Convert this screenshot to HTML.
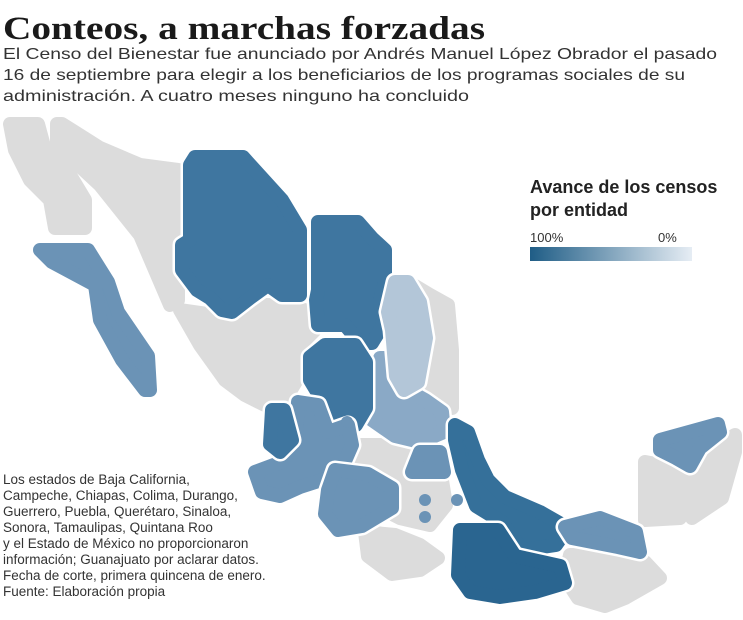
<!DOCTYPE html>
<html><head><meta charset="utf-8"><style>html,body{margin:0;padding:0;background:#fff;}svg{display:block}</style></head>
<body>
<svg width="743" height="620" viewBox="0 0 743 620" xmlns="http://www.w3.org/2000/svg">
<g font-family="Liberation Sans, sans-serif">
<text x="3" y="39" font-family="Liberation Serif, serif" font-weight="bold" font-size="33" fill="#1a1a1a" textLength="482" lengthAdjust="spacingAndGlyphs">Conteos, a marchas forzadas</text>
<text x="3" y="59" font-size="16" fill="#333" textLength="714" lengthAdjust="spacingAndGlyphs">El Censo del Bienestar fue anunciado por Andrés Manuel López Obrador el pasado</text>
<text x="3" y="80" font-size="16" fill="#333" textLength="682" lengthAdjust="spacingAndGlyphs">16 de septiembre para elegir a los beneficiarios de los programas sociales de su</text>
<text x="3" y="101" font-size="16" fill="#333" textLength="466" lengthAdjust="spacingAndGlyphs">administración. A cuatro meses ninguno ha concluido</text>
</g>
<defs>
<polygon id="bc" points="10,124 38,124 45,150 70,175 85,200 85,228 55,228 50,200 30,180 15,150"/>
<polygon id="son" points="57,124 62,124 100,148 140,165 178,170 178,300 170,305 140,235 100,185 57,145"/>
<polygon id="dur" points="180,310 215,315 240,305 285,305 312,312 320,325 300,345 298,378 285,400 265,405 245,395 225,380 200,345"/>
<polygon id="tam" points="415,286 430,295 448,305 452,350 452,408 440,410 425,400 428,340"/>
<polygon id="pue" points="345,445 400,445 410,460 440,468 446,505 430,525 400,518 365,500 352,470"/>
<polygon id="gro" points="365,532 395,535 420,545 438,558 420,570 392,574 368,556"/>
<polygon id="chs" points="570,555 620,555 645,562 660,578 625,598 605,606 578,598 565,578"/>
<polygon id="cam" points="645,462 676,468 684,482 680,518 645,520 645,470"/>
<polygon id="qr" points="700,462 722,442 735,435 735,452 722,498 692,518 690,478"/>
<polygon id="chih" points="195,157 243,157 262,178 282,200 300,230 300,295 282,295 268,285 250,298 232,312 222,310 210,298 197,290 182,270 182,245 190,240 190,165"/>
<polygon id="coa" points="318,222 358,222 372,238 385,250 385,282 380,300 383,325 372,343 360,343 345,325 318,325 316,300 318,290"/>
<polygon id="zac" points="325,345 355,345 366,362 366,408 356,425 332,425 322,400 310,380 310,357"/>
<polygon id="nay" points="272,410 284,410 292,440 280,452 270,444"/>
<polygon id="oax" points="460,530 498,530 515,556 560,566 565,583 535,592 500,597 470,592 458,575"/>
<polygon id="ver" points="455,425 468,432 478,460 488,480 505,497 540,512 568,528 556,545 522,550 502,522 476,506 462,470 455,440"/>
<polygon id="bcs" points="40,250 88,250 108,282 118,312 148,356 150,390 145,390 122,360 100,320 95,285 52,262"/>
<polygon id="jal" points="298,402 318,405 328,432 348,425 352,445 342,468 328,478 300,487 280,496 262,492 255,472 282,462 296,440"/>
<polygon id="mic" points="335,470 368,474 392,488 392,508 362,526 338,530 325,514 328,490"/>
<polygon id="tab" points="565,527 600,518 636,532 640,552 618,547 572,538"/>
<polygon id="yuc" points="660,440 718,424 720,432 700,448 690,466 676,458 660,450"/>
<polygon id="hgo" points="420,452 440,452 444,472 412,472"/>
<polygon id="slp" points="380,358 395,358 398,385 425,400 442,412 444,432 420,442 395,436 372,420 350,398 372,392"/>
<polygon id="nl" points="395,282 408,282 420,302 426,338 418,382 404,390 396,376 392,330 388,312"/>
</defs>
<g stroke-linejoin="round">
<g fill="#dcdcdc" stroke="#dcdcdc" stroke-width="14">
<use href="#bc"/><use href="#son"/><use href="#dur"/><use href="#tam"/><use href="#pue"/><use href="#gro"/><use href="#chs"/><use href="#cam"/><use href="#qr"/>
</g>
<g stroke="#fff" stroke-width="19" fill="#fff"><use href="#chih"/><use href="#coa"/><use href="#bcs"/></g>
<g fill="#3f76a0" stroke="#3f76a0" stroke-width="14"><use href="#chih"/><use href="#coa"/></g>
<g fill="#6b93b6" stroke="#6b93b6" stroke-width="14"><use href="#bcs"/></g>
<use href="#slp" fill="#fff" stroke="#fff" stroke-width="19"/><use href="#slp" fill="#8aa9c6" stroke="#8aa9c6" stroke-width="14"/>
<use href="#nl" fill="#fff" stroke="#fff" stroke-width="19"/><use href="#nl" fill="#b3c6d8" stroke="#b3c6d8" stroke-width="14"/>
<use href="#zac" fill="#fff" stroke="#fff" stroke-width="19"/><use href="#zac" fill="#3f76a0" stroke="#3f76a0" stroke-width="14"/>
<use href="#jal" fill="#fff" stroke="#fff" stroke-width="19"/><use href="#jal" fill="#6b93b6" stroke="#6b93b6" stroke-width="14"/>
<use href="#nay" fill="#fff" stroke="#fff" stroke-width="19"/><use href="#nay" fill="#3f76a0" stroke="#3f76a0" stroke-width="14"/>
<use href="#mic" fill="#fff" stroke="#fff" stroke-width="19"/><use href="#mic" fill="#6b93b6" stroke="#6b93b6" stroke-width="14"/>
<use href="#hgo" fill="#fff" stroke="#fff" stroke-width="19"/><use href="#hgo" fill="#6b93b6" stroke="#6b93b6" stroke-width="14"/>
<use href="#ver" fill="#fff" stroke="#fff" stroke-width="19"/><use href="#ver" fill="#35709a" stroke="#35709a" stroke-width="14"/>
<use href="#oax" fill="#fff" stroke="#fff" stroke-width="19"/><use href="#oax" fill="#2a6590" stroke="#2a6590" stroke-width="14"/>
<use href="#tab" fill="#fff" stroke="#fff" stroke-width="19"/><use href="#tab" fill="#6b93b6" stroke="#6b93b6" stroke-width="14"/>
<use href="#yuc" fill="#fff" stroke="#fff" stroke-width="19"/><use href="#yuc" fill="#6b93b6" stroke="#6b93b6" stroke-width="14"/>
</g>
<circle cx="347" cy="422" r="6" fill="#6b93b6"/>
<circle cx="425" cy="500" r="6" fill="#6b93b6"/>
<circle cx="425" cy="517" r="6" fill="#6b93b6"/>
<circle cx="457" cy="500" r="6" fill="#6b93b6"/>
<defs><linearGradient id="g" x1="0" x2="1"><stop offset="0" stop-color="#1f5d86"/><stop offset="1" stop-color="#e6edf4"/></linearGradient></defs>
<g font-family="Liberation Sans, sans-serif">
<text x="530" y="193" font-size="18" font-weight="bold" fill="#222">Avance de los censos</text>
<text x="530" y="216" font-size="18" font-weight="bold" fill="#222">por entidad</text>
<text x="530" y="242" font-size="13" fill="#333">100%</text>
<text x="658" y="242" font-size="13" fill="#333">0%</text>
<rect x="530" y="247" width="162" height="14" fill="url(#g)"/>
<g font-size="13.5" fill="#333">
<text x="3" y="484">Los estados de Baja California,</text>
<text x="3" y="500">Campeche, Chiapas, Colima, Durango,</text>
<text x="3" y="516">Guerrero, Puebla, Querétaro, Sinaloa,</text>
<text x="3" y="532">Sonora, Tamaulipas, Quintana Roo</text>
<text x="3" y="548">y el Estado de México no proporcionaron</text>
<text x="3" y="564">información; Guanajuato por aclarar datos.</text>
<text x="3" y="580">Fecha de corte, primera quincena de enero.</text>
<text x="3" y="596">Fuente: Elaboración propia</text>
</g>
</g>
</svg>
</body></html>
